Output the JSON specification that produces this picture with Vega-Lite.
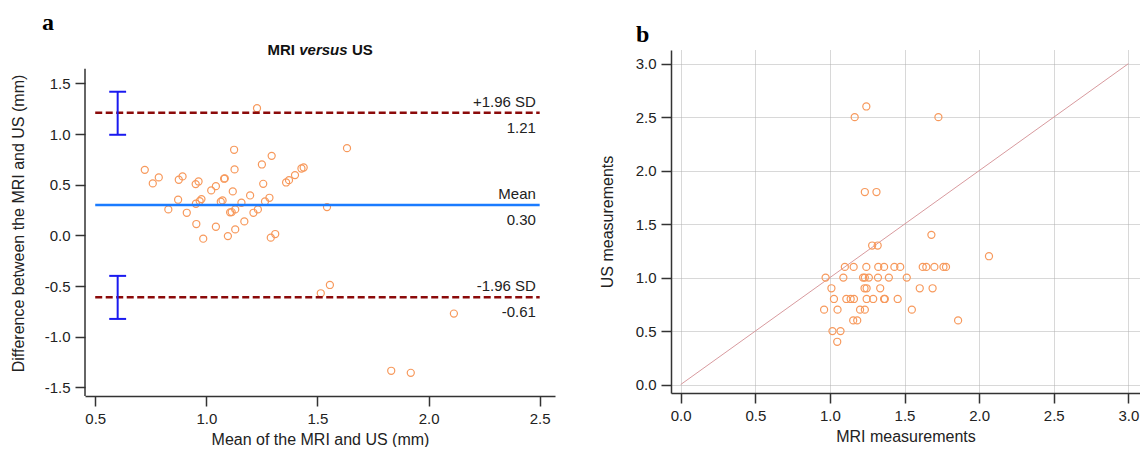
{
  "$schema": "https://vega.github.io/schema/vega-lite/v6.json",
  "padding": {"left": 10, "top": 10, "right": 0, "bottom": 0},
  "spacing": 44,
  "background": "white",
  "config": {
    "view": {"stroke": null},
    "font": "Liberation Sans",
    "locale": {"number": {"decimal": ".", "thousands": ",", "grouping": [3], "currency": ["$", ""], "minus": "-"}},
    "axis": {
      "labelFont": "Liberation Sans", "titleFont": "Liberation Sans",
      "labelFontSize": 15, "titleFontSize": 16, "titleFontWeight": "normal",
      "labelColor": "#222", "titleColor": "#222",
      "domainColor": "#333", "domainWidth": 1.5,
      "tickColor": "#333", "tickWidth": 1.5, "tickSize": 10, "labelPadding": 5
    }
  },
  "datasets": {
    "bland": [
      {"mean": 1.228, "diff": 1.255}, {"mean": 1.125, "diff": 0.845}, {"mean": 1.633, "diff": 0.861},
      {"mean": 1.294, "diff": 0.785}, {"mean": 0.723, "diff": 0.647}, {"mean": 1.127, "diff": 0.651},
      {"mean": 1.25, "diff": 0.70}, {"mean": 1.438, "diff": 0.670}, {"mean": 1.428, "diff": 0.66},
      {"mean": 1.399, "diff": 0.595}, {"mean": 1.372, "diff": 0.545}, {"mean": 1.359, "diff": 0.522},
      {"mean": 0.786, "diff": 0.572}, {"mean": 0.759, "diff": 0.513}, {"mean": 0.893, "diff": 0.582},
      {"mean": 0.876, "diff": 0.549}, {"mean": 0.965, "diff": 0.532}, {"mean": 0.952, "diff": 0.506},
      {"mean": 1.043, "diff": 0.486}, {"mean": 1.022, "diff": 0.444}, {"mean": 1.083, "diff": 0.562},
      {"mean": 1.08, "diff": 0.559}, {"mean": 1.119, "diff": 0.434}, {"mean": 1.256, "diff": 0.509},
      {"mean": 1.197, "diff": 0.394}, {"mean": 1.284, "diff": 0.371}, {"mean": 1.264, "diff": 0.335},
      {"mean": 0.873, "diff": 0.352}, {"mean": 0.978, "diff": 0.358}, {"mean": 0.97, "diff": 0.338},
      {"mean": 0.953, "diff": 0.312}, {"mean": 1.073, "diff": 0.345}, {"mean": 1.065, "diff": 0.332},
      {"mean": 1.158, "diff": 0.322}, {"mean": 1.13, "diff": 0.256}, {"mean": 1.114, "diff": 0.230},
      {"mean": 1.107, "diff": 0.227}, {"mean": 1.232, "diff": 0.256}, {"mean": 1.212, "diff": 0.223},
      {"mean": 0.829, "diff": 0.256}, {"mean": 0.912, "diff": 0.223}, {"mean": 1.543, "diff": 0.279},
      {"mean": 0.955, "diff": 0.112}, {"mean": 1.171, "diff": 0.138}, {"mean": 1.043, "diff": 0.085},
      {"mean": 1.13, "diff": 0.059}, {"mean": 1.097, "diff": -0.007}, {"mean": 0.986, "diff": -0.033},
      {"mean": 1.29, "diff": -0.023}, {"mean": 1.31, "diff": 0.013}, {"mean": 1.515, "diff": -0.572},
      {"mean": 1.556, "diff": -0.49}, {"mean": 2.114, "diff": -0.772}, {"mean": 1.832, "diff": -1.337},
      {"mean": 1.92, "diff": -1.357}
    ],
    "limits": [
      {"name": "+1.96 SD", "value": 1.21, "valueText": "1.21", "kind": "limit"},
      {"name": "Mean", "value": 0.30, "valueText": "0.30", "kind": "mean"},
      {"name": "-1.96 SD", "value": -0.61, "valueText": "-0.61", "kind": "limit"}
    ],
    "ci": [
      {"lo": 0.993, "hi": 1.418},
      {"lo": -0.825, "hi": -0.40}
    ],
    "scatter": [
      {"mri": 1.166, "us": 2.5}, {"mri": 1.244, "us": 2.6}, {"mri": 1.727, "us": 2.5},
      {"mri": 1.234, "us": 1.8}, {"mri": 1.312, "us": 1.8},
      {"mri": 1.680, "us": 1.4},
      {"mri": 1.283, "us": 1.3}, {"mri": 1.32, "us": 1.3},
      {"mri": 2.066, "us": 1.2},
      {"mri": 1.1, "us": 1.1}, {"mri": 1.159, "us": 1.1}, {"mri": 1.244, "us": 1.1}, {"mri": 1.324, "us": 1.1},
      {"mri": 1.363, "us": 1.1}, {"mri": 1.432, "us": 1.1}, {"mri": 1.471, "us": 1.1}, {"mri": 1.622, "us": 1.1},
      {"mri": 1.646, "us": 1.1}, {"mri": 1.7, "us": 1.1}, {"mri": 1.761, "us": 1.1}, {"mri": 1.778, "us": 1.1},
      {"mri": 0.971, "us": 1.0}, {"mri": 1.09, "us": 1.0}, {"mri": 1.222, "us": 1.0}, {"mri": 1.234, "us": 1.0},
      {"mri": 1.261, "us": 1.0}, {"mri": 1.322, "us": 1.0}, {"mri": 1.395, "us": 1.0}, {"mri": 1.515, "us": 1.0},
      {"mri": 1.01, "us": 0.9}, {"mri": 1.232, "us": 0.9}, {"mri": 1.246, "us": 0.9}, {"mri": 1.337, "us": 0.9},
      {"mri": 1.602, "us": 0.9}, {"mri": 1.688, "us": 0.9},
      {"mri": 1.027, "us": 0.8}, {"mri": 1.11, "us": 0.8}, {"mri": 1.139, "us": 0.8}, {"mri": 1.161, "us": 0.8},
      {"mri": 1.246, "us": 0.8}, {"mri": 1.29, "us": 0.8}, {"mri": 1.363, "us": 0.8}, {"mri": 1.368, "us": 0.8},
      {"mri": 1.454, "us": 0.8},
      {"mri": 0.961, "us": 0.7}, {"mri": 1.051, "us": 0.7}, {"mri": 1.202, "us": 0.7}, {"mri": 1.234, "us": 0.7},
      {"mri": 1.549, "us": 0.7},
      {"mri": 1.156, "us": 0.6}, {"mri": 1.183, "us": 0.6}, {"mri": 1.859, "us": 0.6},
      {"mri": 1.017, "us": 0.5}, {"mri": 1.071, "us": 0.5},
      {"mri": 1.049, "us": 0.4}
    ],
    "diag": [
      {"x": 0, "y": 0},
      {"x": 3, "y": 3}
    ]
  },
  "hconcat": [
    {
      "width": 470,
      "height": 346,
      "title": {"text": "a", "anchor": "start", "frame": "group", "font": "Liberation Serif", "fontSize": 24, "fontWeight": "bold", "color": "#000", "dx": -43, "offset": -11, "baseline": "alphabetic"},
      "layer": [
        {
          "data": {"name": "bland"},
          "mark": {"type": "point", "shape": "circle", "filled": false, "color": "#F7995C", "size": 50, "strokeWidth": 1.2, "opacity": 1},
          "encoding": {
            "x": {"field": "mean", "type": "quantitative",
              "scale": {"domain": [0.454, 2.569], "nice": false, "zero": false},
              "axis": {"title": "Mean of the MRI and US (mm)", "values": [0.5, 1, 1.5, 2, 2.5], "format": ".1f", "grid": false, "titlePadding": 5}},
            "y": {"field": "diff", "type": "quantitative",
              "scale": {"domain": [-1.586, 1.83], "nice": false, "zero": false},
              "axis": {"title": "Difference between the MRI and US (mm)", "values": [-1.5, -1, -0.5, 0, 0.5, 1, 1.5], "format": ".1f", "grid": false, "domain": false, "titlePadding": 18}}
          }
        },
        {
          "data": {"values": [{"lo": -1.586, "hi": 1.645}]},
          "mark": {"type": "rule", "color": "#333", "strokeWidth": 1.5},
          "encoding": {"x": {"datum": 0.454}, "y": {"field": "lo", "type": "quantitative"}, "y2": {"field": "hi"}}
        },
        {
          "data": {"name": "limits"},
          "transform": [{"filter": "datum.kind === 'limit'"}],
          "mark": {"type": "rule", "color": "#8B0A0A", "strokeWidth": 2.5, "strokeDash": [7, 3.5]},
          "encoding": {"x": {"datum": 0.5}, "x2": {"datum": 2.5}, "y": {"field": "value", "type": "quantitative"}}
        },
        {
          "data": {"name": "limits"},
          "transform": [{"filter": "datum.kind === 'mean'"}],
          "mark": {"type": "rule", "color": "#1A7BFF", "strokeWidth": 2.5},
          "encoding": {"x": {"datum": 0.5}, "x2": {"datum": 2.5}, "y": {"field": "value", "type": "quantitative"}}
        },
        {
          "data": {"name": "limits"},
          "mark": {"type": "text", "align": "right", "baseline": "middle", "dy": -11, "fontSize": 15, "color": "#222"},
          "encoding": {"x": {"datum": 2.483}, "y": {"field": "value", "type": "quantitative"}, "text": {"field": "name"}}
        },
        {
          "data": {"name": "limits"},
          "mark": {"type": "text", "align": "right", "baseline": "middle", "dy": 15, "fontSize": 15, "color": "#222"},
          "encoding": {"x": {"datum": 2.483}, "y": {"field": "value", "type": "quantitative"}, "text": {"field": "valueText"}}
        },
        {
          "data": {"name": "ci"},
          "mark": {"type": "rule", "color": "#1A1AF0", "strokeWidth": 2},
          "encoding": {"x": {"datum": 0.601}, "y": {"field": "lo", "type": "quantitative"}, "y2": {"field": "hi"}}
        },
        {
          "data": {"name": "ci"},
          "mark": {"type": "rule", "color": "#1A1AF0", "strokeWidth": 2},
          "encoding": {"x": {"datum": 0.563}, "x2": {"datum": 0.639}, "y": {"field": "lo", "type": "quantitative"}}
        },
        {
          "data": {"name": "ci"},
          "mark": {"type": "rule", "color": "#1A1AF0", "strokeWidth": 2},
          "encoding": {"x": {"datum": 0.563}, "x2": {"datum": 0.639}, "y": {"field": "hi", "type": "quantitative"}}
        },
        {
          "data": {"values": [{"t": "MRI"}]},
          "mark": {"type": "text", "align": "right", "baseline": "middle", "fontSize": 15, "fontWeight": "bold", "color": "#111"},
          "encoding": {"x": {"datum": 1.399}, "y": {"datum": 1.833}, "text": {"field": "t"}}
        },
        {
          "data": {"values": [{"t": "versus"}]},
          "mark": {"type": "text", "align": "left", "baseline": "middle", "fontSize": 15, "fontWeight": "bold", "fontStyle": "italic", "color": "#111"},
          "encoding": {"x": {"datum": 1.418}, "y": {"datum": 1.833}, "text": {"field": "t"}}
        },
        {
          "data": {"values": [{"t": "US"}]},
          "mark": {"type": "text", "align": "left", "baseline": "middle", "fontSize": 15, "fontWeight": "bold", "color": "#111"},
          "encoding": {"x": {"datum": 1.655}, "y": {"datum": 1.833}, "text": {"field": "t"}}
        }
      ]
    },
    {
      "width": 469,
      "height": 343,
      "title": {"text": "b", "anchor": "start", "frame": "group", "font": "Liberation Serif", "fontSize": 24, "fontWeight": "bold", "color": "#000", "dx": -35, "offset": -16, "baseline": "alphabetic"},
      "layer": [
        {
          "data": {"name": "diag"},
          "mark": {"type": "line", "color": "#D89A9E", "strokeWidth": 1},
          "encoding": {
            "x": {"field": "x", "type": "quantitative",
              "scale": {"domain": [-0.065, 3.078], "nice": false, "zero": false},
              "axis": {"title": "MRI measurements", "values": [0, 0.5, 1, 1.5, 2, 2.5, 3], "format": ".1f", "grid": true, "gridColor": "#b0b0b0", "gridDash": [1, 1], "gridWidth": 1, "titlePadding": 5}},
            "y": {"field": "y", "type": "quantitative",
              "scale": {"domain": [-0.079, 3.128], "nice": false, "zero": false},
              "axis": {"title": "US measurements", "values": [0, 0.5, 1, 1.5, 2, 2.5, 3], "format": ".1f", "grid": true, "gridColor": "#b0b0b0", "gridDash": [1, 1], "gridWidth": 1, "titlePadding": 20}}
          }
        },
        {
          "data": {"name": "scatter"},
          "mark": {"type": "point", "shape": "circle", "filled": false, "color": "#F7995C", "size": 50, "strokeWidth": 1.2, "opacity": 1},
          "encoding": {
            "x": {"field": "mri", "type": "quantitative"},
            "y": {"field": "us", "type": "quantitative"}
          }
        }
      ]
    }
  ]
}
